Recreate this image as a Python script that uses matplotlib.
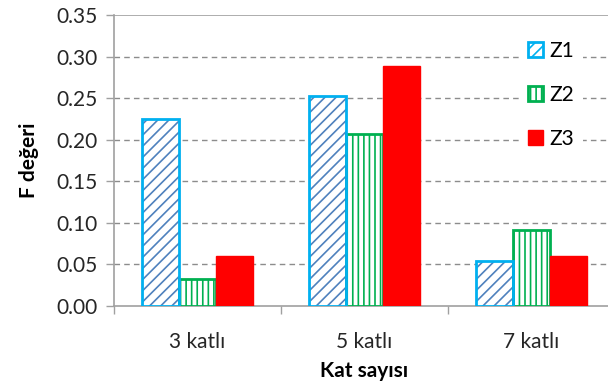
import matplotlib

matplotlib.use("Agg")
import matplotlib.pyplot as plt
from matplotlib.patches import Patch
import numpy as np

categories = ["3 katlı", "5 katlı", "7 katlı"]
series_names = ["Z1", "Z2", "Z3"]
z1 = [0.225, 0.252, 0.054]
z2 = [0.033, 0.207, 0.092]
z3 = [0.060, 0.289, 0.060]

plt.rcParams["font.family"] = ["Lato", "DejaVu Sans"]
plt.rcParams["hatch.linewidth"] = 1.2

fig = plt.figure(figsize=(6.08, 3.85), dpi=100)
ax = fig.add_axes([114 / 608, 1 - 306 / 385, 501 / 608, 291 / 385])

x = np.arange(len(categories))
w = 0.222

# Z1: blue diagonal hatch with a lighter cyan border
ax.bar(x - w, z1, w, facecolor="white", edgecolor="#4F81BD", hatch="///",
       linewidth=0, zorder=3)
ax.bar(x - w, z1, w, fill=False, edgecolor="#00B0F0", linewidth=2, zorder=4)
# Z2: green vertical lines
ax.bar(x, z2, w, facecolor="white", edgecolor="#00B050", hatch="|||",
       linewidth=2, zorder=3)
# Z3: solid red
ax.bar(x + w, z3, w, color="#FF0000", edgecolor="#FF0000", linewidth=1, zorder=3)

ax.set_xlim(-0.5, 2.5)
ax.set_ylim(0, 0.35)
yt = np.arange(0, 0.351, 0.05)
ax.set_yticks(yt)
ax.set_yticklabels([f"{v:.2f}" for v in yt])
ax.set_xticks(x)
ax.set_xticklabels(categories)
ax.set_xticks([-0.5, 0.5, 1.5, 2.5], minor=True)
ax.tick_params(axis="x", which="major", length=0, pad=19, labelsize=15,
               labelcolor="#262626")
ax.tick_params(axis="x", which="minor", length=6, color="#A0A0A0", width=1)
ax.tick_params(axis="y", length=6, color="#A0A0A0", width=1, pad=6,
               labelsize=15, labelcolor="#262626")

for y in yt[1:-1]:
    ax.axhline(y, color="#8C8C8C", linestyle=(0, (4, 3)), linewidth=1, zorder=1)
ax.axhline(0.35, color="#A0A0A0", linewidth=1.2, zorder=1)

for side in ["top", "right"]:
    ax.spines[side].set_visible(False)
for side in ["left", "bottom"]:
    ax.spines[side].set_color("#A0A0A0")
    ax.spines[side].set_linewidth(1.2)

ax.set_ylabel("F değeri", fontsize=15, fontweight="bold", labelpad=12)
ax.set_xlabel("Kat sayısı", fontsize=15, fontweight="bold", labelpad=6)

handles = [
    Patch(facecolor="white", edgecolor="#00B0F0", hatch="///", linewidth=2),
    Patch(facecolor="white", edgecolor="#00B050", hatch="|||", linewidth=2),
    Patch(facecolor="#FF0000", edgecolor="#FF0000"),
]
leg = ax.legend(handles, series_names, loc="upper left",
                bbox_to_anchor=(509 / 608, 1 - 22 / 385),
                bbox_transform=fig.transFigure, frameon=True, framealpha=1,
                edgecolor="none", facecolor="white", fontsize=15,
                handlelength=0.75, handleheight=0.75, handletextpad=0.3,
                labelspacing=1.15, borderpad=0.4)
leg.set_zorder(5)

fig.savefig("out.png", dpi=100, facecolor="white")
